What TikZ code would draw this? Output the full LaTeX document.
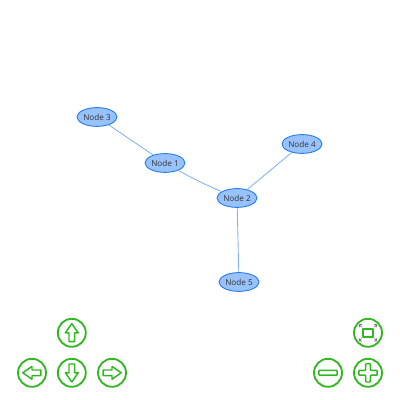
\documentclass[tikz,border=0pt]{standalone}
\usepackage{fontspec}
\setmainfont{Open Sans}
\usetikzlibrary{shapes.geometric}
\definecolor{nodefill}{HTML}{97C2FC}
\definecolor{nodeline}{HTML}{2B7CE9}
\definecolor{edgeline}{HTML}{7FB2F5}
\definecolor{btngreen}{HTML}{2EB81E}
\definecolor{btngrey}{HTML}{7A7A7A}
\tikzset{
  graphnode/.style={ellipse,draw=nodeline,fill=nodefill,line width=.65pt,
    minimum width=1cm,minimum height=.47cm,inner sep=0pt,
    font=\fontsize{5.8}{7}\selectfont,text=black!80},
  graphedge/.style={draw=edgeline,line width=.6pt},
  navbutton/.style={circle,draw=btngreen,line width=1.3pt,minimum size=.7cm,inner sep=0pt},
  navicon/.style={draw=btngreen,line width=1.05pt,line join=round},
}
\begin{document}
\begin{tikzpicture}[scale=1.0]
  \useasboundingbox (0,0) rectangle (10,10);
  % graph
  \node[graphnode] (n3) at (2.425,7.075) {Node 3};
  \node[graphnode] (n1) at (4.125,5.925) {Node 1};
  \node[graphnode] (n2) at (5.925,5.05) {Node 2};
  \node[graphnode] (n4) at (7.55,6.4) {Node 4};
  \node[graphnode] (n5) at (5.975,2.95) {Node 5};
  \draw[graphedge] (n3) -- (n1);
  \draw[graphedge] (n1) to[bend right=3] (n2);
  \draw[graphedge] (n2) -- (n4);
  \draw[graphedge] (n2) -- (n5);
  % arrow buttons
  \foreach \name/\x/\y/\ang in {up/1.795/1.68/0,left/.8/.68/90,down/1.795/.68/180,right/2.8/.68/270} {
    \node[navbutton] (\name) at (\x,\y) {};
    \draw[navicon,shift={(\name)},rotate=\ang] (0,.23) -- (.16,0) -- (.07,0) -- (.07,-.22)
      -- (-.07,-.22) -- (-.07,0) -- (-.16,0) -- cycle;
  }
  % zoom buttons
  \node[navbutton] (fit) at (9.2,1.68) {};
  \node[navbutton] (minus) at (8.2,.68) {};
  \node[navbutton] (plus) at (9.2,.68) {};
  \draw[navicon,rounded corners=.5pt] ([xshift=-.23cm,yshift=-.06cm]minus.center) rectangle ([xshift=.23cm,yshift=.06cm]minus.center);
  \draw[navicon,rounded corners=.5pt,shift={(plus)}] (-.06,.23) -- (.06,.23) -- (.06,.06) -- (.23,.06) -- (.23,-.06)
    -- (.06,-.06) -- (.06,-.23) -- (-.06,-.23) -- (-.06,-.06) -- (-.23,-.06) -- (-.23,.06) -- (-.06,.06) -- cycle;
  \draw[navicon,shift={(fit)}] (-.13,-.1) rectangle (.13,.1);
  \foreach \sx/\sy in {1/1,1/-1,-1/1,-1/-1}
    \draw[btngrey,line width=.55pt,shift={(fit)},xscale=\sx,yscale=\sy] (.16,.14) -- (.215,.205)
      (.15,.205) -- (.215,.205) -- (.215,.14);
\end{tikzpicture}
\end{document}
